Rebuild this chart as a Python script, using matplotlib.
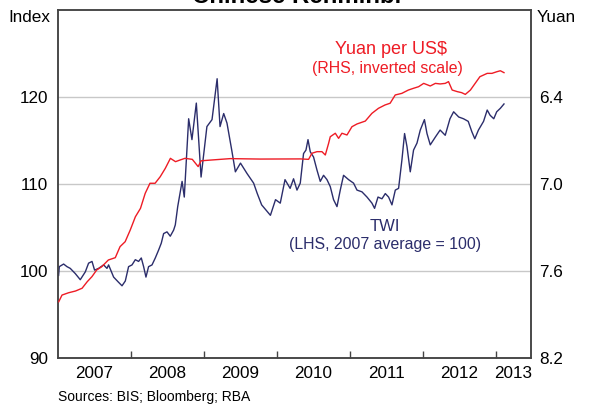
import numpy as np
import matplotlib.pyplot as plt

plt.rcParams['font.family'] = ['Liberation Sans', 'DejaVu Sans']

# TWI, index (LHS), decimal year
twi_t = [2007.008, 2007.018, 2007.077, 2007.123, 2007.168, 2007.237, 2007.305, 2007.374,
         2007.419, 2007.466, 2007.501, 2007.556, 2007.625, 2007.671, 2007.693, 2007.762,
         2007.830, 2007.877, 2007.922, 2007.967, 2008.014, 2008.059, 2008.104, 2008.141,
         2008.173, 2008.205, 2008.241, 2008.288, 2008.333, 2008.378, 2008.415, 2008.447,
         2008.493, 2008.538, 2008.584, 2008.607, 2008.64, 2008.70, 2008.73, 2008.79,
         2008.835, 2008.895, 2008.96, 2009.04, 2009.11, 2009.18, 2009.22, 2009.27,
         2009.315, 2009.38, 2009.43, 2009.50, 2009.59, 2009.68, 2009.73, 2009.79,
         2009.91, 2009.98, 2010.045, 2010.11, 2010.18, 2010.227, 2010.274, 2010.319,
         2010.364, 2010.397, 2010.425, 2010.456, 2010.501, 2010.548, 2010.593, 2010.638,
         2010.685, 2010.73, 2010.775, 2010.822, 2010.867, 2010.912, 2010.981, 2011.049,
         2011.096, 2011.164, 2011.233, 2011.301, 2011.337, 2011.384, 2011.438, 2011.484,
         2011.529, 2011.575, 2011.621, 2011.666, 2011.712, 2011.748, 2011.781, 2011.826,
         2011.871, 2011.918, 2011.963, 2012.02, 2012.055, 2012.10, 2012.17, 2012.235,
         2012.305, 2012.37, 2012.42, 2012.49, 2012.555, 2012.62, 2012.67, 2012.71,
         2012.76, 2012.83, 2012.88, 2012.92, 2012.97, 2013.01, 2013.06, 2013.11]
twi = [99.5, 100.5, 100.8, 100.5, 100.3, 99.7, 99.0, 99.9,
       100.9, 101.1, 100.1, 100.3, 100.7, 100.3, 100.7, 99.3,
       98.7, 98.3, 98.85, 100.5, 100.7, 101.3, 101.1, 101.5,
       100.5, 99.3, 100.5, 100.7, 101.5, 102.4, 103.2, 104.3,
       104.5, 104.0, 104.7, 105.3, 107.4, 110.3, 108.5, 117.5,
       115.1, 119.3, 110.8, 116.6, 117.4, 122.1, 116.6, 118.1,
       117.0, 113.9, 111.4, 112.4, 111.2, 110.1, 108.9, 107.6,
       106.4, 108.2, 107.8, 110.5, 109.5, 110.6, 109.3, 110.1,
       113.5, 113.9, 115.1, 113.7, 113.1, 111.6, 110.3, 111.0,
       110.5, 109.7, 108.2, 107.4, 109.3, 111.0, 110.5, 110.1,
       109.3, 109.1, 108.5, 107.8, 107.2, 108.5, 108.3, 108.9,
       108.5, 107.6, 109.3, 109.5, 112.8, 115.8, 114.3, 111.4,
       113.9, 114.7, 116.2, 117.4, 115.8, 114.5, 115.4, 116.2,
       115.6, 117.5, 118.3, 117.7, 117.5, 117.2, 116.0, 115.2,
       116.2, 117.2, 118.5, 117.9, 117.5, 118.3, 118.7, 119.2]

# Yuan per US$ (RHS, inverted)
cny_t = [2007.01, 2007.055, 2007.145, 2007.24, 2007.33, 2007.40, 2007.465, 2007.53,
         2007.60, 2007.69, 2007.785, 2007.85, 2007.92, 2007.99, 2008.06, 2008.13,
         2008.195, 2008.26, 2008.33, 2008.40, 2008.47, 2008.54, 2008.61, 2008.675,
         2008.74, 2008.84, 2008.92, 2008.96, 2009.09, 2009.36, 2009.77, 2010.32,
         2010.433, 2010.479, 2010.548, 2010.616, 2010.662, 2010.707, 2010.73, 2010.799,
         2010.844, 2010.89, 2010.959, 2011.027, 2011.096, 2011.21, 2011.30, 2011.39,
         2011.48, 2011.55, 2011.62, 2011.71, 2011.80, 2011.87, 2011.94, 2012.01,
         2012.10, 2012.17, 2012.235, 2012.305, 2012.35, 2012.40, 2012.47, 2012.53,
         2012.58, 2012.65, 2012.715, 2012.78, 2012.88, 2012.945, 2013.01, 2013.06,
         2013.11]
cny = [7.812, 7.766, 7.750, 7.738, 7.719, 7.674, 7.639, 7.593,
       7.570, 7.524, 7.508, 7.432, 7.398, 7.317, 7.226, 7.168,
       7.064, 6.995, 6.995, 6.950, 6.892, 6.823, 6.846, 6.834,
       6.823, 6.830, 6.880, 6.840, 6.835, 6.825, 6.828, 6.827,
       6.830, 6.788, 6.777, 6.777, 6.800, 6.720, 6.674, 6.650,
       6.685, 6.650, 6.662, 6.605, 6.586, 6.566, 6.513, 6.478,
       6.455, 6.443, 6.386, 6.375, 6.352, 6.340, 6.329, 6.306,
       6.324, 6.306, 6.310, 6.306, 6.294, 6.352, 6.363, 6.370,
       6.382, 6.352, 6.306, 6.260, 6.237, 6.237, 6.226, 6.219,
       6.232]

years = [2007, 2008, 2009, 2010, 2011, 2012, 2013]
left_ticks = [90, 100, 110, 120]
right_ticks = [6.4, 7.0, 7.6, 8.2]

navy = '#2b2d6b'
red = '#ee1c25'
spine_c = '#444444'

fig = plt.figure(figsize=(5.91, 4.04), dpi=100)
ax = fig.add_axes([58/591, 46/404, 473/591, 348/404])
ax2 = ax.twinx()

xmax = 2013.48
ax.set_xlim(2007, xmax)
ax.set_ylim(90, 130)
ax2.set_ylim(8.2, 5.8)

for v in [100, 110, 120]:
    ax.axhline(v, color='#c8c8c8', lw=1.0, zorder=0)

ax.plot(twi_t, twi, color=navy, lw=1.0, zorder=3)
ax2.plot(cny_t, cny, color=red, lw=1.0, zorder=3)

ax.set_yticks(left_ticks)
ax.set_yticklabels([str(v) for v in left_ticks])
ax2.set_yticks(right_ticks)
ax2.set_yticklabels(['%.1f' % v for v in right_ticks])
ax.tick_params(axis='y', length=0, pad=7, labelsize=12.3)
ax2.tick_params(axis='y', length=0, pad=6, labelsize=12.3)

ax.set_xticks(years[1:])
ax.set_xticklabels([])
ax.tick_params(axis='x', which='major', direction='in', length=5, width=1, color=spine_c)
mids = [y + 0.5 for y in years[:-1]] + [(2013 + xmax) / 2]
ax.set_xticks(mids, minor=True)
ax.set_xticklabels([str(y) for y in years], minor=True)
ax.tick_params(axis='x', which='minor', length=0, pad=6, labelsize=12.3)

for a in (ax, ax2):
    for s in a.spines.values():
        s.set_color(spine_c)
        s.set_linewidth(1.1)

fig.text(50/591, 1 - 18/404, 'Index', ha='right', va='center', fontsize=12.3)
fig.text(537/591, 1 - 18/404, 'Yuan', ha='left', va='center', fontsize=12.3)

fig.text(391/591, 1 - 49/404, 'Yuan per US$', ha='center', va='center', fontsize=13, color=red)
fig.text(387/591, 1 - 68/404, '(RHS, inverted scale)', ha='center', va='center', fontsize=11.4, color=red)
fig.text(385/591, 1 - 226/404, 'TWI', ha='center', va='center', fontsize=12, color=navy)
fig.text(385/591, 1 - 244/404, '(LHS, 2007 average = 100)', ha='center', va='center', fontsize=11.4, color=navy)

fig.text(297/591, 1 - 3/404, 'Chinese Renminbi', ha='center', va='baseline', fontsize=17.3, fontweight='bold')
fig.text(58/591, 1 - 397/404, 'Sources: BIS; Bloomberg; RBA', ha='left', va='center', fontsize=10)

fig.savefig('out.png', dpi=100)
